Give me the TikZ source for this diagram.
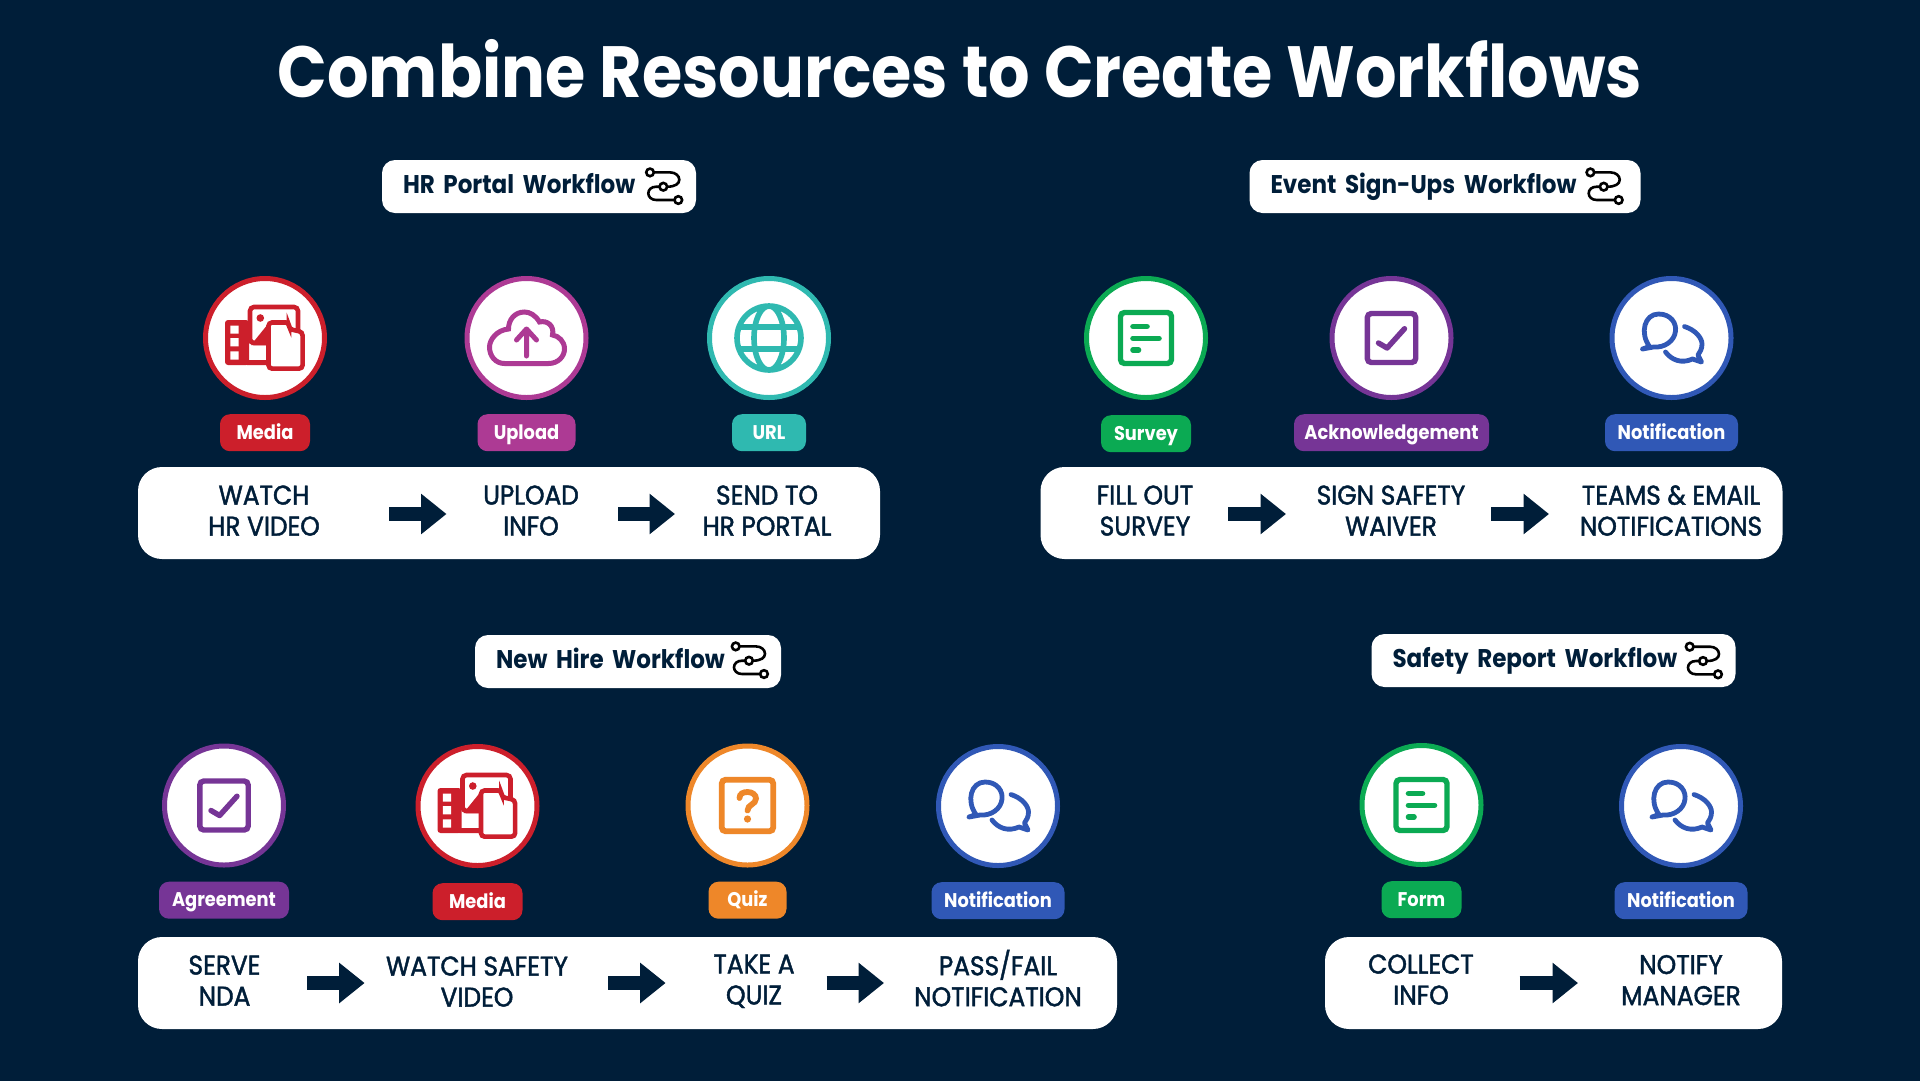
\documentclass[tikz,border=0pt]{standalone}
\usepackage{fontspec}
\usepackage{xcolor}
\usepackage{tikz}
\usetikzlibrary{positioning,arrows.meta}
\setmainfont{Poppins}[FakeStretch=0.9]
\newfontfamily\stepfont{Poppins}[FakeStretch=0.92,FakeBold=1.6]
\definecolor{navy}{HTML}{001E39}
\definecolor{mediared}{HTML}{CC1F2B}
\definecolor{uploadpink}{HTML}{AD3A94}
\definecolor{urlteal}{HTML}{2FB9B0}
\definecolor{formgreen}{HTML}{0BAA53}
\definecolor{signpurple}{HTML}{763596}
\definecolor{notifyblue}{HTML}{3058B6}
\definecolor{quizorange}{HTML}{EE8729}
\tikzset{
  titlelbl/.style={font=\fontsize{72.5}{80}\selectfont\bfseries,text=white,inner sep=0pt},
  headpill/.style={rectangle,rounded corners=13pt,fill=white,text=navy,align=left,
    inner xsep=21pt,inner ysep=0pt,minimum height=53pt,text height=19pt,text depth=5pt,
    font=\fontsize{25.6}{30}\selectfont\bfseries},
  ring/.style={circle,draw,fill=white,line width=5pt,minimum size=119pt,inner sep=0pt},
  badge/.style={rectangle,rounded corners=10pt,text=white,inner sep=0pt,minimum height=37pt,
    text height=16pt,text depth=2.5pt,font=\fontsize{19.8}{23}\selectfont\bfseries},
  barbox/.style={rectangle,rounded corners=24pt,fill=white,minimum height=92pt,inner sep=0pt},
  stepbox/.style={align=center,text=navy,inner sep=0pt,text depth=7pt,
    font=\fontsize{27}{31}\stepfont},
  flow/.style={-{Triangle[length=25.5pt,width=39pt]},line width=14pt,draw=navy},
  flowicon/.pic={
    \draw[black,line width=2.6pt] (-9.6,-14.3) -- (7,-14.3) .. controls (12,-14.3) and (16,-11) .. (16,-7)
      .. controls (16,-3) and (12,0) .. (3.8,0);
    \draw[black,line width=2.6pt] (-3.8,0) -- (-7,0) .. controls (-12,0) and (-15,3) .. (-15,6.6)
      .. controls (-15,10) and (-12,13.3) .. (-7,13.3) -- (11.2,13.3);
    \draw[black,line width=2.6pt] (0,0) circle (3.8) (-13.3,-14.3) circle (3.8) (15,13.3) circle (3.8);
  },
  mediaicon/.pic={
    \fill[rounded corners=3pt] (-40,-18) rectangle (-16,27);
    \fill[rounded corners=2pt] (-20,22) rectangle (4,27);
    \fill[white] (-34.7,-12.3) rectangle (-26.3,-4.3) (-34.7,0) rectangle (-26.3,8.3)
      (-34.7,13.3) rectangle (-26.3,21.7);
    \draw[fill=white,line width=4.6pt,rounded corners=4pt] (-15,-31) rectangle (33,5);
    \fill (-4.7,-20) circle (3.8);
    \fill (-14,7) -- (3,-14) -- (3,7) -- cycle;
    \draw[fill=white,line width=4.6pt,rounded corners=3.5pt] (3.5,-15.5) -- (24,-15.5) -- (24,-9)
      -- (37.6,-6) -- (37.6,30.6) -- (3.5,30.6) -- cycle;
  },
  cloudicon/.pic={
    \draw[line width=5pt] (-22,25.5) -- (22,25.5) .. controls (32,25.5) and (38,18) .. (38,11)
      .. controls (38,3) and (32,-2) .. (26,-3) .. controls (28,-12) and (21,-18) .. (13,-16)
      .. controls (9,-23) and (3,-26) .. (-2,-26) .. controls (-12,-26) and (-18,-18) .. (-18,-9)
      .. controls (-30,-8) and (-37,2) .. (-37,9) .. controls (-37,18) and (-31,25.5) .. (-22,25.5) -- cycle;
    \draw[line width=5pt,line cap=round,line join=round] (0,18) -- (0,-9) (-10,2) -- (0,-9) -- (10,2);
  },
  globeicon/.pic={
    \draw[line width=5.6pt] (0,0) circle (32) (0,0) ellipse (15 and 32)
      (-30,-11) -- (30,-11) (-30,11) -- (30,11);
  },
  surveyicon/.pic={
    \draw[line width=5.4pt,rounded corners=4pt] (-25.5,-25.5) rectangle (25.5,25.5);
    \draw[line width=5.6pt,line cap=round] (-13,-11.5) -- (1,-11.5) (-13,0.3) -- (13,0.3) (-13,12) -- (-7.5,12);
  },
  checkicon/.pic={
    \draw[line width=5.4pt,rounded corners=4pt] (-24.2,-24.5) rectangle (24.2,24.5);
    \draw[line width=5.4pt,line cap=round,line join=round] (-13,5) -- (-4.4,10) -- (13,-9.3);
  },
  quizicon/.pic={
    \draw[line width=5.8pt,rounded corners=4pt] (-25.8,-25.8) rectangle (25.8,25.8);
    \draw[line width=5.8pt,line cap=round] (-8,-7.5) .. controls (-8,-12) and (-4,-13.5) .. (0,-13.5)
      .. controls (5,-13.5) and (8.5,-10.5) .. (8.5,-7) .. controls (8.5,-1) and (0,-1) .. (0,5);
    \fill (0,13.5) circle (3.6);
  },
  chaticon/.pic={
    \draw[line width=4.8pt,line join=round] (-22,8.5) .. controls (-32,-5) and (-27,-24) .. (-13,-24)
      .. controls (0,-24) and (5,-14) .. (4,-7) .. controls (3,3) and (-7,10) .. (-18,9)
      -- (-29,11) -- cycle;
    \draw[line width=4.8pt,line join=round,line cap=round] (13,-11.5) .. controls (24,-8) and (30.5,0) .. (30.5,6)
      .. controls (30.5,11) and (28.5,14) .. (26.5,17) -- (30,24) -- (21,21)
      .. controls (10,26) and (0,22) .. (-6,14);
  },
}
\begin{document}
\begin{tikzpicture}[x=1pt,y=-1pt]
  \useasboundingbox (0,0) rectangle (1920,1080);
  \fill[navy] (-5,-5) rectangle (1925,1085);
  \node[titlelbl] (title) at (960,69) {Combine Resources to Create Workflows};

  \node[headpill,minimum width=314pt,text width=272pt] (hrhead) at (539,186.5) {HR Portal Workflow};
  \pic at (663.3,186.7) {flowicon};
  \node[barbox,minimum width=742pt] (hrbar) at (509,513) {};
  \node[ring,draw=mediared] (hrmedia) at (265,338) {};
  \node[ring,draw=uploadpink] (hrupload) at (526.5,338) {};
  \node[ring,draw=urlteal] (hrurl) at (769,338) {};
  \pic[color=mediared] at (hrmedia) {mediaicon};
  \pic[color=uploadpink] at (hrupload) {cloudicon};
  \pic[color=urlteal] at (hrurl) {globeicon};
  \node[badge,fill=mediared,minimum width=90pt,below=14pt of hrmedia] (hrmedial) {Media};
  \node[badge,fill=uploadpink,minimum width=98pt,below=14pt of hrupload] (hruploadl) {Upload};
  \node[badge,fill=urlteal,minimum width=74pt,below=14pt of hrurl] (hrurll) {URL};
  \node[stepbox] (hrwatch) at (264,514) {WATCH\\HR VIDEO};
  \node[stepbox] (hrinfo) at (531,514) {UPLOAD\\INFO};
  \node[stepbox] (hrsend) at (767,514) {SEND TO\\HR PORTAL};
  \draw[flow,shorten <=125pt,shorten >=84.5pt] (hrwatch.center) -- (hrinfo.center);
  \draw[flow,shorten <=87pt,shorten >=92pt] (hrinfo.center) -- (hrsend.center);

  \node[headpill,minimum width=391pt,text width=349pt] (evhead) at (1445,186.5) {Event Sign-Ups Workflow};
  \pic at (1603.7,186.7) {flowicon};
  \node[barbox,minimum width=742pt] (evbar) at (1411.5,513) {};
  \node[ring,draw=formgreen] (evsurvey) at (1146,338) {};
  \node[ring,draw=signpurple] (evsign) at (1391.5,338) {};
  \node[ring,draw=notifyblue] (evnote) at (1671.5,338) {};
  \pic[color=formgreen] at (evsurvey) {surveyicon};
  \pic[color=signpurple] at (evsign) {checkicon};
  \pic[color=notifyblue] at (evnote) {chaticon};
  \node[badge,fill=formgreen,minimum width=90pt,below=15pt of evsurvey] (evsurveyl) {Survey};
  \node[badge,fill=signpurple,minimum width=195pt,below=14pt of evsign] (evsignl) {Acknowledgement};
  \node[badge,fill=notifyblue,minimum width=133pt,below=14pt of evnote] (evnotel) {Notification};
  \node[stepbox] (evfill) at (1145,514) {FILL OUT\\SURVEY};
  \node[stepbox] (evwaiver) at (1391,514) {SIGN SAFETY\\WAIVER};
  \node[stepbox] (evteams) at (1671,514) {TEAMS \& EMAIL\\NOTIFICATIONS};
  \draw[flow,shorten <=83pt,shorten >=105pt] (evfill.center) -- (evwaiver.center);
  \draw[flow,shorten <=100pt,shorten >=122pt] (evwaiver.center) -- (evteams.center);

  \node[headpill,minimum width=306pt,text width=264pt] (nhhead) at (628,661.5) {New Hire Workflow};
  \pic at (749,660.7) {flowicon};
  \node[barbox,minimum width=979pt] (nhbar) at (627.5,983) {};
  \node[ring,draw=signpurple] (nhsign) at (224,805.5) {};
  \node[ring,draw=mediared] (nhmedia) at (477.5,806) {};
  \node[ring,draw=quizorange] (nhquiz) at (747.5,805.5) {};
  \node[ring,draw=notifyblue] (nhnote) at (998,806) {};
  \pic[color=signpurple] at (nhsign) {checkicon};
  \pic[color=mediared] at (nhmedia) {mediaicon};
  \pic[color=quizorange] at (nhquiz) {quizicon};
  \pic[color=notifyblue] at (nhnote) {chaticon};
  \node[badge,fill=signpurple,minimum width=130pt,below=14pt of nhsign] (nhsignl) {Agreement};
  \node[badge,fill=mediared,minimum width=90pt,below=15pt of nhmedia] (nhmedial) {Media};
  \node[badge,fill=quizorange,minimum width=78pt,below=14pt of nhquiz] (nhquizl) {Quiz};
  \node[badge,fill=notifyblue,minimum width=133pt,below=14pt of nhnote] (nhnotel) {Notification};
  \node[stepbox,text depth=5pt] (nhserve) at (224.5,983) {SERVE\\NDA};
  \node[stepbox,text depth=3pt] (nhwatch) at (477,983) {WATCH SAFETY\\VIDEO};
  \node[stepbox] (nhtake) at (754,983) {TAKE A\\QUIZ};
  \node[stepbox,text depth=10pt] (nhpass) at (998,983) {PASS/FAIL\\NOTIFICATION};
  \draw[flow,shorten <=82.5pt,shorten >=112.4pt] (nhserve.center) -- (nhwatch.center);
  \draw[flow,shorten <=131pt,shorten >=88.4pt] (nhwatch.center) -- (nhtake.center);
  \draw[flow,shorten <=72.5pt,shorten >=114pt] (nhtake.center) -- (nhpass.center);

  \node[headpill,minimum width=364pt,text width=322pt] (srhead) at (1553.5,660.5) {Safety Report Workflow};
  \pic at (1703,661) {flowicon};
  \node[barbox,minimum width=457pt] (srbar) at (1553.5,983) {};
  \node[ring,draw=formgreen] (srform) at (1421.5,805) {};
  \node[ring,draw=notifyblue] (srnote) at (1681,806) {};
  \pic[color=formgreen] at (srform) {surveyicon};
  \pic[color=notifyblue] at (srnote) {chaticon};
  \node[badge,fill=formgreen,minimum width=80pt,below=14pt of srform] (srforml) {Form};
  \node[badge,fill=notifyblue,minimum width=133pt,below=14pt of srnote] (srnotel) {Notification};
  \node[stepbox] (srcollect) at (1421,983) {COLLECT\\INFO};
  \node[stepbox,text depth=6pt] (srnotify) at (1681,983) {NOTIFY\\MANAGER};
  \draw[flow,shorten <=98.6pt,shorten >=103pt] (srcollect.center) -- (srnotify.center);
\end{tikzpicture}
\end{document}
